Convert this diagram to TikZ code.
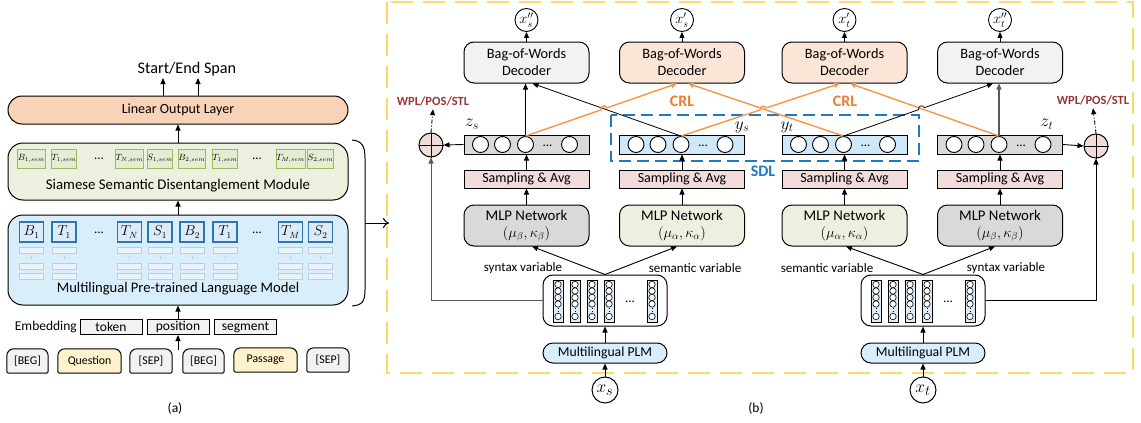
\documentclass[tikz,border=0pt]{standalone}
\usepackage{fontspec}
\setmainfont{Carlito}
\usetikzlibrary{arrows.meta,calc}
\pgfdeclarelayer{bg}
\pgfsetlayers{bg,main}
\definecolor{peachA}{HTML}{F9D3B8}
\definecolor{peachB}{HTML}{FBE5D6}
\definecolor{greenA}{HTML}{EBF1DE}
\definecolor{greenT}{HTML}{E3EDD3}
\definecolor{greenB}{HTML}{9BBB59}
\definecolor{blueA}{HTML}{D9EEFB}
\definecolor{blueT}{HTML}{DCEBF7}
\definecolor{blueB}{HTML}{2E75B6}
\definecolor{faintB}{HTML}{B7CEE6}
\definecolor{grayF}{HTML}{F2F2F2}
\definecolor{grayM}{HTML}{D9D9D9}
\definecolor{yellowF}{HTML}{FFF2CC}
\definecolor{pinkF}{HTML}{F2DCDB}
\definecolor{vecB}{HTML}{CFE8F8}
\definecolor{sdlC}{HTML}{1F78C8}
\definecolor{gold}{HTML}{FFD966}
\definecolor{wplC}{HTML}{953735}
\definecolor{orgL}{HTML}{F79646}
\definecolor{orgT}{HTML}{ED7D31}
\definecolor{darkG}{HTML}{595959}
\newcommand\fsz[2]{\fontsize{#1}{#2}\selectfont}
\begin{document}
\begin{tikzpicture}[x=1pt,y=-1pt,
  arr/.style={-{Triangle[length=6pt,width=5pt]}, line width=0.9pt},
  box/.style={draw, line width=1pt, inner sep=0pt, align=center},
  gtok/.style={draw=greenB, fill=greenT, line width=1pt, minimum width=24pt, minimum height=19pt, inner sep=0pt, font=\fsz{8.6}{10}},
  btok/.style={draw=blueB, fill=blueT, line width=1.2pt, minimum width=24pt, minimum height=20pt, inner sep=0pt, font=\fsz{13.5}{14}},
  ebox/.style={draw, fill=grayF, line width=1pt, minimum width=62pt, minimum height=15pt, inner sep=0pt, font=\fsz{13.5}{15}},
  tabtxt/.style={minimum height=24pt, inner sep=0pt, font=\fsz{11.8}{13}},
  dec/.style={box, rounded corners=10pt, minimum width=125pt, minimum height=41pt, font=\fsz{14.3}{17}},
  ocirc/.style={circle, draw, line width=0.9pt, minimum size=23pt, inner sep=0pt, font=\fsz{14}{14}},
  vbox/.style={draw, line width=1pt, minimum width=125pt, minimum height=19pt, inner sep=0pt},
  vc/.style={circle, draw, fill=white, line width=0.9pt, minimum size=16pt, inner sep=0pt},
  samp/.style={box, fill=pinkF, minimum width=125pt, minimum height=18pt, font=\fsz{14}{15}},
  mlp/.style={box, rounded corners=10pt, minimum width=125pt, minimum height=41pt, font=\fsz{14.8}{17}},
  lad/.style={box, rounded corners=10pt, fill=white, minimum width=124pt, minimum height=51pt},
  splm/.style={box, rounded corners=10pt, fill=blueA, minimum width=124pt, minimum height=20pt, font=\fsz{13.7}{15}},
  xin/.style={circle, draw, line width=1pt, minimum size=26pt, inner sep=0pt, font=\fsz{19}{19}},
  plus/.style={circle, draw, fill=pinkF, line width=1pt, minimum size=24pt, inner sep=0pt},
  wpl/.style={font=\bfseries\fsz{12.5}{13}, text=wplC},
  crl/.style={font=\bfseries\fsz{16}{17}, text=orgT},
  varl/.style={font=\fsz{13}{14}},
  mlab/.style={font=\fsz{17}{17}},
  oline/.style={arr, draw=orgL, line width=1.4pt},
  bline/.style={arr, line width=0.8pt},
  hop/.style={bend left=90, looseness=1.6}
]
\useasboundingbox (0,0) rectangle (1141,423);

% ================= panel (a) =================
\node[box, rounded corners=14pt, fill=peachA, minimum width=340pt, minimum height=28pt, font=\fsz{14}{15}] (lin) at (178,110) {Linear Output Layer};
\node[font=\fsz{16.2}{18}] (span) at (187,69) {Start/End Span};
\coordinate (s1) at (163,78);
\coordinate (s2) at (198,78);
\draw[arr] (lin.north -| s1) -- (s1);
\draw[arr] (lin.north -| s2) -- (s2);

\node[box, rounded corners=15pt, fill=greenA, minimum width=340pt, minimum height=57pt] (ssdm) at (178,171.5) {};
\node[font=\fsz{14.8}{16}] (ssdmt) at (178,186) {Siamese Semantic Disentanglement Module};
\draw[arr] (ssdm.north) -- (lin.south);

\node[box, rounded corners=15pt, fill=blueA, minimum width=340pt, minimum height=90pt] (plm) at (178,260) {};
\node[font=\fsz{14.6}{16}] (plmt) at (178,289) {Multilingual Pre-trained Language Model};
\draw[arr] (plm.north) -- (ssdm.south);

\foreach \x/\l/\m [count=\i] in {31.5/B/1, 64/T/1, 129.5/T/N, 160/S/1, 192/B/2, 225/T/1, 290.5/T/M, 320.5/S/2}{
  \node[gtok] (g\i) at (\x,158.5) {$\l_{\m,sem}$};
  \node[btok] (b\i) at (\x,232) {$\l_{\m}$};
  \draw[faintB, line width=0.8pt, fill=blueT!60] (\x-12,247) rectangle (\x+12,253);
  \draw[faintB, line width=0.6pt] (\x,255.5) -- (\x,259);
  \draw[faintB, line width=0.8pt, fill=blueT!60] (\x-12,263) rectangle (\x+12,269);
  \draw[faintB, line width=0.8pt, fill=blueT!60] (\x-12,273) rectangle (\x+12,279);
}
\node[font=\fsz{13}{14}] (gd1) at (99,159) {...};
\node[font=\fsz{13}{14}] (gd2) at (257,159) {...};
\node[font=\fsz{13}{14}] (bd1) at (99,233) {...};
\node[font=\fsz{13}{14}] (bd2) at (257,233) {...};

\node[font=\fsz{13.5}{15}, anchor=east, inner sep=1pt] (embl) at (78,327) {Embedding};
\node[ebox] (etok) at (111,327) {token};
\node[ebox] (epos) at (178,327) {position};
\node[ebox] (eseg) at (245.5,327) {segment};
\draw[arr] (epos.north) -- (plm.south);
\coordinate (inb) at (178,350);
\draw[arr] (inb) -- (epos.south);

\node[tabtxt, minimum width=41pt] (k1) at (27.5,361) {[BEG]};
\node[tabtxt, minimum width=63pt] (k2) at (89.5,361) {Question};
\node[tabtxt, minimum width=42pt] (k3) at (151,361) {[SEP]};
\node[tabtxt, minimum width=41pt] (k4) at (203.5,361) {[BEG]};
\node[tabtxt, minimum width=63pt] (k5) at (265.5,360) {Passage};
\node[tabtxt, minimum width=42pt] (k6) at (328,360) {[SEP]};
\begin{pgfonlayer}{bg}
\foreach \nm/\cl in {k1/grayF,k2/yellowF,k3/grayF,k4/grayF,k5/yellowF,k6/grayF}{
  \path[draw, fill=\cl, line width=1pt] let \p1=(\nm.south west), \p2=(\nm.north east) in
    (\x1+2pt,\y1) -- (\x2-2pt,\y1) arc[start angle=270,end angle=360,radius=2pt]
    -- (\x2,\y2-7pt) arc[start angle=0,end angle=90,radius=7pt]
    -- (\x1+7pt,\y2) arc[start angle=90,end angle=180,radius=7pt]
    -- (\x1,\y1+2pt) arc[start angle=180,end angle=270,radius=2pt] -- cycle;
}
\end{pgfonlayer}

\draw[line width=1pt] (352,140) .. controls (362,141) and (365,146) .. (365,158) -- (365,290) .. controls (365,302) and (362,305) .. (352,306);
\coordinate (br) at (365,223);
\coordinate (brt) at (389,223);
\draw[line width=1pt, -{To[length=6pt,width=10pt]}] (br) -- (brt);

\node[font=\fsz{13.5}{15}] (capa) at (175,408) {(a)};

% ================= panel (b) =================
\draw[gold, line width=2.5pt, dash pattern=on 22pt off 10pt] (387,2) rectangle (1133,373);

\node[dec, fill=grayF] (dec1) at (526.5,62.5) {Bag-of-Words\\Decoder};
\node[dec, fill=peachB] (dec2) at (682,62.5) {Bag-of-Words\\Decoder};
\node[dec, fill=peachB] (dec3) at (844.5,62.5) {Bag-of-Words\\Decoder};
\node[dec, fill=grayF] (dec4) at (1000,62.5) {Bag-of-Words\\Decoder};

\node[ocirc] (o1) at (526.5,20) {$x_s''$};
\node[ocirc] (o2) at (682,20) {$x_s'$};
\node[ocirc] (o3) at (844.5,20) {$x_t'$};
\node[ocirc] (o4) at (1000,20) {$x_t''$};
\foreach \i in {1,...,4} \draw[arr] (dec\i.north) -- (o\i.south);

\node[vbox, fill=grayM] (zs) at (526.5,144.5) {};
\node[vbox, fill=vecB] (ys) at (682,144.5) {};
\node[vbox, fill=vecB] (yt) at (844.5,144.5) {};
\node[vbox, fill=grayM] (zt) at (1000,144.5) {};
\foreach \v in {zs,ys,yt,zt}{
  \foreach \o [count=\j] in {17,39,62,106}
    \node[vc] (\v c\j) at ($(\v.west)+(\o,0)$) {};
  \node[font=\fsz{13}{14}] (\v d) at ($(\v.west)+(84,1.5)$) {...};
}

\node[mlab] (zsl) at (472,124) {$z_s$};
\node[mlab] (ysl) at (742,127) {$y_s$};
\node[mlab] (ytl) at (787,127) {$y_t$};
\node[mlab] (ztl) at (1047,124) {$z_t$};

\draw[sdlC, line width=1.5pt, dash pattern=on 12pt off 6pt] (611,115) rectangle (919,161);
\node[font=\bfseries\fsz{16}{17}, text=sdlC] (sdlt) at (763,171) {SDL};

\node[samp] (sa1) at (526.5,179) {Sampling \& Avg};
\node[samp] (sa2) at (682,179) {Sampling \& Avg};
\node[samp] (sa3) at (844.5,179) {Sampling \& Avg};
\node[samp] (sa4) at (1000,179) {Sampling \& Avg};

\node[mlp, fill=grayM] (m1) at (526.5,225.5) {MLP Network\\$(\mu_\beta,\kappa_\beta)$};
\node[mlp, fill=greenA] (m2) at (682,225.5) {MLP Network\\$(\mu_\alpha,\kappa_\alpha)$};
\node[mlp, fill=greenA] (m3) at (844.5,225.5) {MLP Network\\$(\mu_\alpha,\kappa_\alpha)$};
\node[mlp, fill=grayM] (m4) at (1000,225.5) {MLP Network\\$(\mu_\beta,\kappa_\beta)$};

\foreach \i/\v in {1/zs,2/ys,3/yt,4/zt}{
  \draw[arr] (m\i.north) -- (sa\i.south);
  \draw[arr] (sa\i.north) -- (\v.south);
}

\node[lad] (l1) at (605,300.5) {};
\node[lad] (l2) at (923,300.5) {};
\foreach \cx in {605,923}{
  \foreach \o in {15,32,49,66,109}{
    \draw[line width=0.8pt, fill=blueT] (\cx-62+\o-5,280) rectangle (\cx-62+\o+5,322);
    \foreach \cy in {284.5,291,297.5,304,316.5}
      \draw[line width=0.6pt, fill=white] (\cx-62+\o,\cy) circle[radius=3.2pt];
    \draw[line width=0.6pt, dotted] (\cx-62+\o,308.3) -- (\cx-62+\o,312.5);
  }
  \node[font=\fsz{13}{14}] (ld\cx) at (\cx-62+87,302) {...};
}

\node[splm] (pl1) at (605,353) {Multilingual PLM};
\node[splm] (pl2) at (923,353) {Multilingual PLM};
\node[xin] (xs) at (605,390) {$x_s$};
\node[xin] (xt) at (923,390) {$x_t$};
\draw[arr] (xs.north) -- (pl1.south);
\draw[arr] (xt.north) -- (pl2.south);
\draw[arr] (pl1.north) -- (l1.south);
\draw[arr] (pl2.north) -- (l2.south);

\draw[arr] (l1.north) -- ([xshift=5.5pt]m1.south);
\draw[arr] (l1.north) -- ([xshift=-5pt]m2.south);
\draw[arr] (l2.north) -- ([xshift=1.5pt]m3.south);
\draw[arr] (l2.north) -- ([xshift=-5pt]m4.south);

\node[varl] (v1) at (523,268) {syntax variable};
\node[varl] (v2) at (695,268) {semantic variable};
\node[varl] (v3) at (827,268) {semantic variable};
\node[varl] (v4) at (1006,268) {syntax variable};

% plus nodes
\node[plus] (p1) at (431,145) {};
\node[plus] (p2) at (1096,146) {};
\foreach \p in {p1,p2} \draw[line width=1pt] (\p.north) -- (\p.south) (\p.west) -- (\p.east);
\draw[arr] (zs.west) -- (p1.east);
\draw[arr] (zt.east) -- (p2.west);
\draw[arr, darkG] (l1.west) -| (p1.south);
\draw[arr] (l2.east) -| (p2.south);
\node[wpl] (w1) at (433,101) {WPL/POS/STL};
\node[wpl] (w2) at (1093,100) {WPL/POS/STL};
\draw[arr, dash pattern=on 4pt off 2pt on 1pt off 2pt] (p1.north) -- (w1.south);
\draw[arr, dash pattern=on 4pt off 2pt on 1pt off 2pt] (p2.north) -- (w2.south);

\node[crl] (crl1) at (682,101) {CRL};
\node[crl] (crl2) at (845,101) {CRL};

% latent -> decoder connectors
\coordinate (e1) at ([xshift=6pt]dec1.south);
\coordinate (e2a) at ([xshift=-5pt]dec2.south);
\coordinate (e2b) at ([xshift=6pt]dec2.south);
\coordinate (e3a) at ([xshift=-4.5pt]dec3.south);
\coordinate (e3b) at ([xshift=5.5pt]dec3.south);
\coordinate (e4) at ([xshift=-7pt]dec4.south);
\coordinate (h1) at (intersection of zsc3.north--e2a and ysc3.north--e1);
\coordinate (h2) at (intersection of ysc3.north--e3a and ytc3.north--e2b);
\coordinate (h3) at (intersection of ytc3.north--e4 and ztc3.north--e3b);

\draw[arr] (zsc3.north) -- (zsc3.north |- dec1.south);
\draw[bline] (ysc3.north) -- (e1);
\draw[oline] (zsc3.north) -- ($(h1)!3pt!(zsc3.north)$) to[hop] ($(h1)!3pt!(e2a)$) -- (e2a);
\draw[oline] (ytc3.north) -- (e2b);
\draw[oline] (ysc3.north) -- ($(h2)!3pt!(ysc3.north)$) to[hop] ($(h2)!3pt!(e3a)$) -- (e3a);
\draw[oline] (ztc3.north) -- (e3b);
\draw[bline] (ytc3.north) -- ($(h3)!3pt!(ytc3.north)$) to[hop] ($(h3)!3pt!(e4)$) -- (e4);
\draw[arr, darkG, line width=1.1pt] (ztc3.north) -- (ztc3.north |- dec4.south);

\node[font=\fsz{13.5}{15}] (capb) at (756,408) {(b)};
\end{tikzpicture}
\end{document}
